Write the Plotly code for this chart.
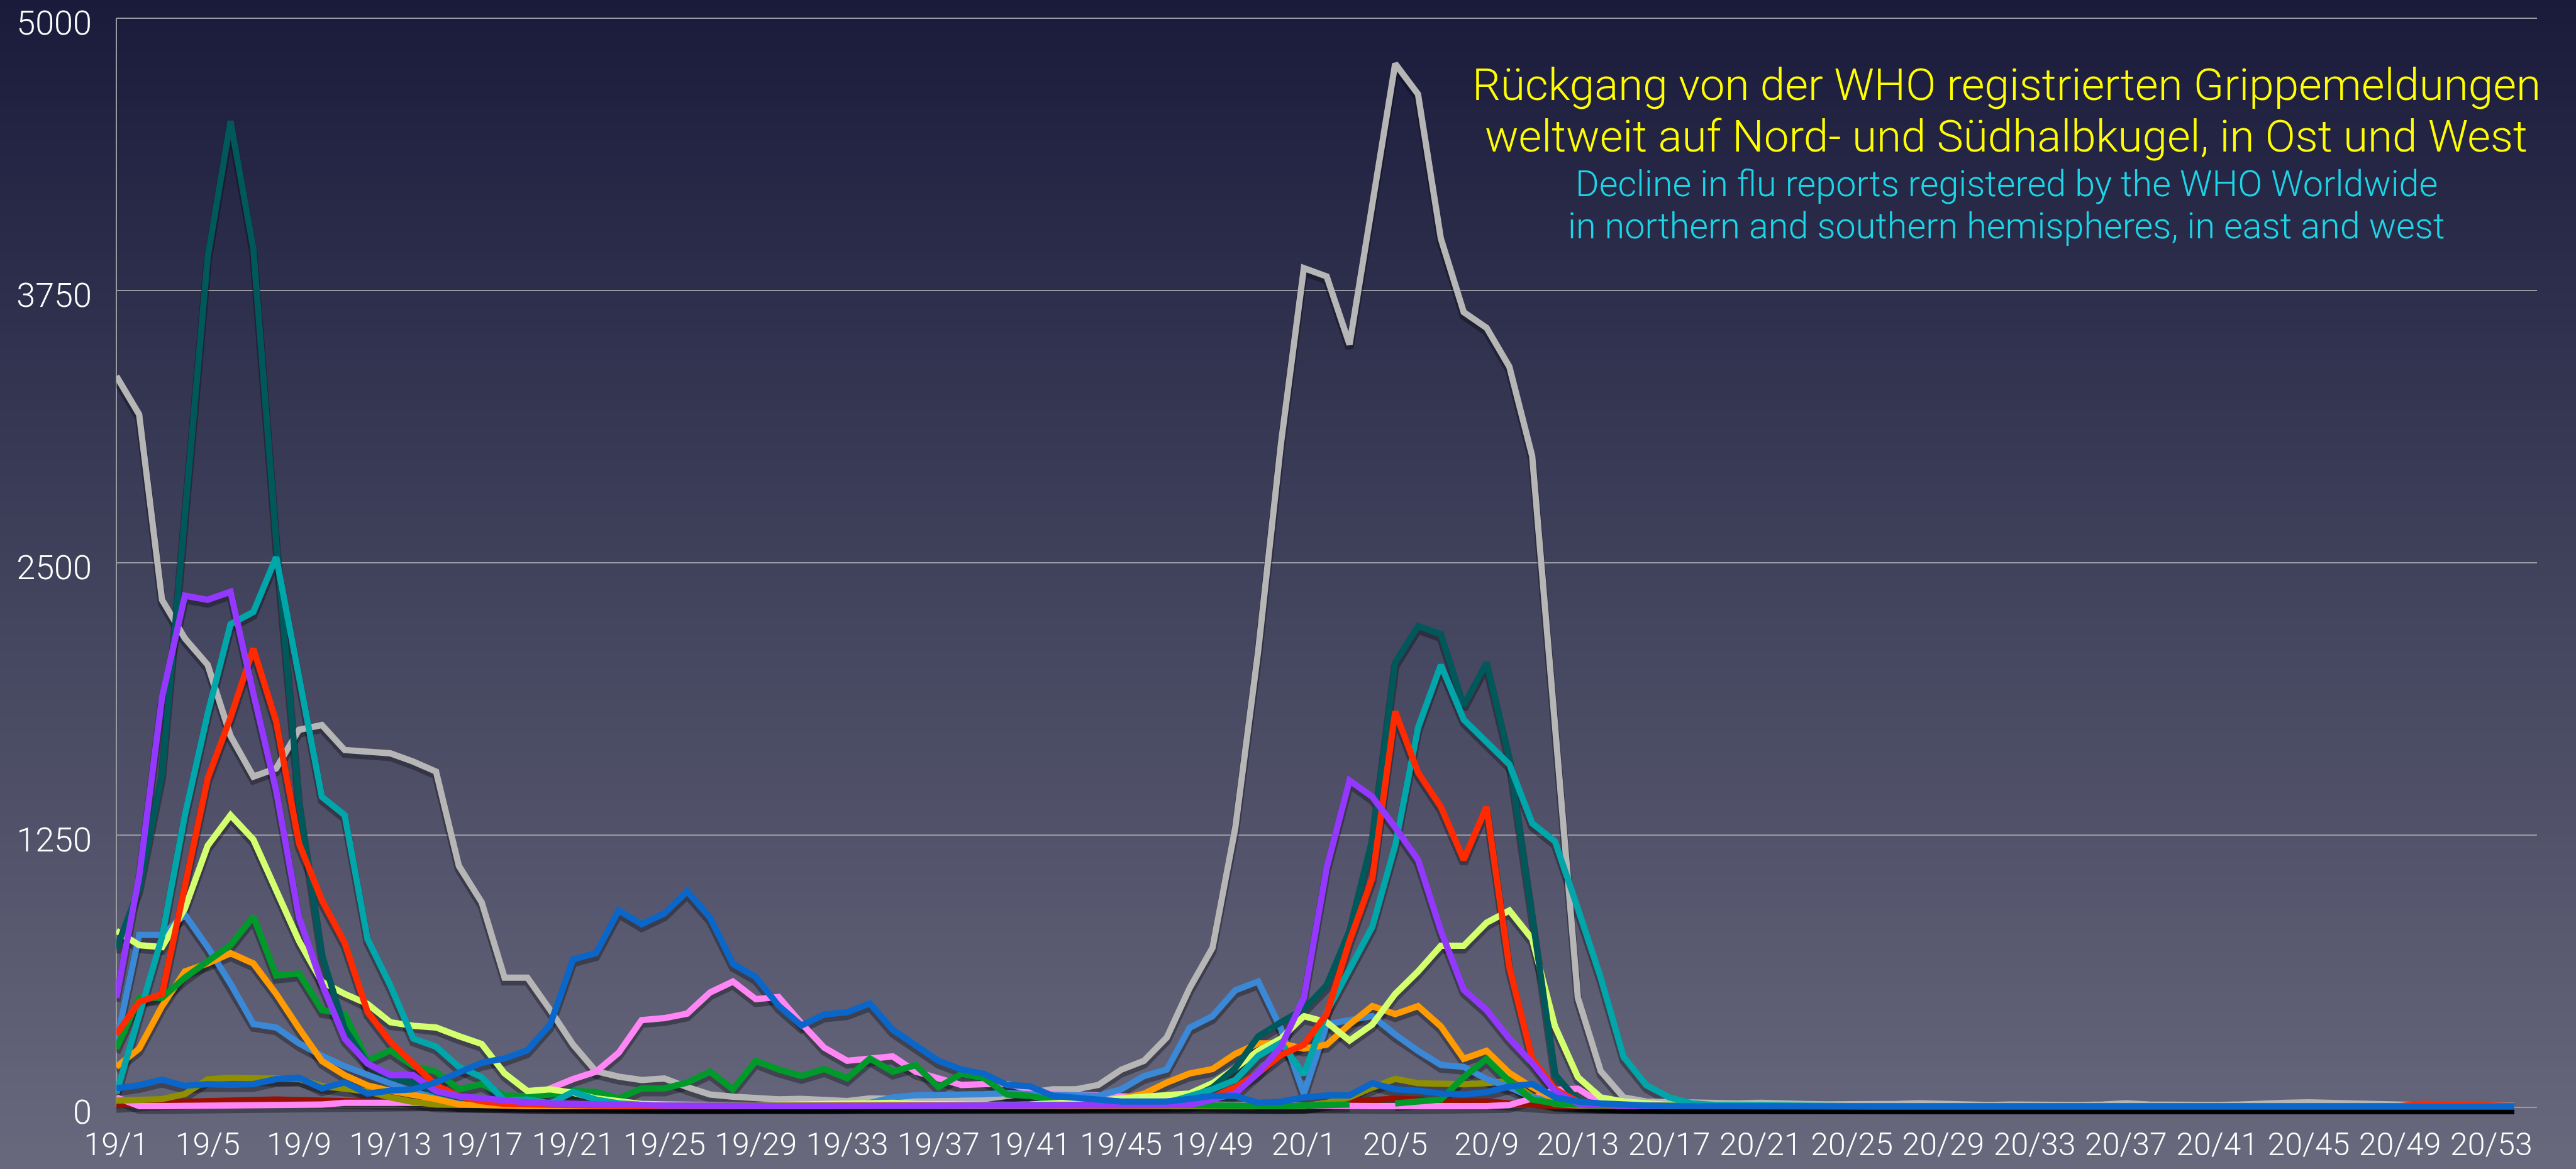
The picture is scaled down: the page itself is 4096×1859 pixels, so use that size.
import plotly.graph_objects as go

# ---------------- data ----------------
weeks = [f"19/{i}" for i in range(1, 53)] + [f"20/{i}" for i in range(1, 54)] + ["21/1"]
tick_labels = weeks[0:105:4]
y_ticks = [0, 1250, 2500, 3750, 5000]

gray = [3357, 3181, 2330, 2153, 2031, 1705, 1518, 1556, 1733, 1755,
        1640, 1630, 1625, 1587, 1541, 1108, 940, 595, 595, 446,
        287, 165, 140, 125, 132, 92, 58, 48, 42, 36,
        38, 30, 28, 40, 36, 34, 34, 36, 38, 52,
        66, 82, 82, 102, 172, 213, 320, 547, 732, 1284,
        2095, 3050, 3853, 3815, 3502, 4147, 4792, 4652, 3989, 3651,
        3579, 3400, 2990, 1750, 502, 166, 45, 26, 22, 20,
        18, 17, 20, 15, 14, 13, 12, 14, 15, 18,
        14, 12, 10, 12, 10, 9, 10, 12, 18, 12,
        10, 9, 10, 12, 18, 20, 22, 18, 14, 12,
        10, 9, 8, 8, 7, 6]

dark_teal = [726, 1005, 1530, 2700, 3904, 4528, 3942, 2600, 1400, 700,
             360, 200, 138, 110, 70, 45, 30, 20, 15, 12,
             10, 9, 8, 8, 7, 7, 6, 6, 6, 5,
             5, 5, 5, 5, 5, 5, 5, 5, 6, 6,
             7, 8, 9, 10, 12, 14, 20, 40, 90, 180,
             325, 390, 450, 560, 810, 1229, 2041, 2209, 2172, 1845,
             2041, 1603, 900, 150, 30, 12, 8, 6, 5, 5,
             5, 5, 5, 5, 5, 5, 5, 5, 5, 5,
             5, 5, 5, 5, 5, 5, 5, 5, 5, 5,
             5, 5, 5, 5, 5, 5, 5, 5, 5, 5,
             5, 5, 5, 5, 5, 5]

teal = [63, 427, 782, 1341, 1808, 2218, 2274, 2526, 1994, 1425,
        1341, 772, 558, 315, 278, 185, 138, 30, 35, 17,
        70, 35, 17, 8, 5, 5, 5, 5, 5, 5,
        5, 5, 5, 5, 5, 5, 5, 5, 5, 5,
        5, 5, 5, 5, 8, 12, 20, 52, 82, 125,
        235, 296, 150, 437, 633, 829, 1202, 1742, 2031, 1780,
        1677, 1574, 1304, 1220, 912, 595, 231, 101, 45, 17,
        10, 8, 6, 5, 5, 5, 5, 5, 5, 5,
        5, 5, 5, 5, 5, 5, 5, 5, 5, 5,
        5, 5, 5, 5, 5, 5, 5, 5, 5, 5,
        5, 5, 5, 5, 5, 5]

purple = [502, 1061, 1882, 2349, 2330, 2367, 1900, 1453, 870, 567,
          315, 200, 147, 147, 74, 50, 41, 30, 22, 17,
          17, 15, 13, 10, 8, 6, 5, 5, 5, 5,
          5, 5, 5, 5, 5, 5, 5, 5, 5, 5,
          5, 5, 5, 5, 5, 6, 8, 10, 35, 63,
          157, 278, 502, 1099, 1500, 1425, 1285, 1136, 810, 539,
          446, 315, 203, 73, 17, 8, 6, 5, 5, 5,
          5, 5, 5, 5, 5, 5, 5, 5, 5, 5,
          5, 5, 5, 5, 5, 5, 5, 5, 5, 5,
          5, 5, 5, 5, 5, 5, 5, 5, 5, 5,
          5, 5, 5, 5, 5, 5]

red = [334, 483, 520, 1000, 1509, 1789, 2106, 1770, 1211, 950,
       754, 437, 300, 200, 100, 50, 28, 15, 12, 10,
       8, 7, 6, 5, 5, 5, 5, 5, 5, 5,
       5, 5, 5, 5, 5, 5, 5, 5, 5, 5,
       5, 5, 5, 5, 6, 8, 10, 20, 45, 91,
       157, 240, 287, 427, 763, 1052, 1817, 1537, 1379, 1136,
       1379, 642, 222, 82, 26, 10, 6, 5, 5, 5,
       5, 5, 5, 5, 5, 5, 5, 5, 5, 5,
       5, 5, 5, 5, 5, 5, 5, 5, 5, 5,
       5, 5, 5, 5, 5, 5, 5, 5, 5, 5,
       5, 15, 12, 5, 5, 5]

yellow_green = [810, 744, 735, 912, 1201, 1341, 1229, 987, 763, 576,
                520, 474, 390, 374, 366, 326, 290, 155, 74, 82,
                66, 40, 25, 15, 12, 10, 8, 8, 8, 10,
                12, 15, 20, 25, 20, 15, 12, 10, 10, 10,
                12, 15, 20, 28, 40, 50, 55, 63, 110, 180,
                259, 315, 418, 390, 306, 380, 520, 623, 741, 741,
                847, 903, 772, 371, 138, 45, 26, 15, 10, 8,
                5, 5, 5, 5, 5, 5, 5, 5, 5, 5,
                5, 5, 5, 5, 5, 5, 5, 5, 5, 5,
                5, 5, 5, 5, 5, 5, 5, 5, 5, 5,
                5, 5, 5, 5, 5, 5]

green = [269, 502, 502, 595, 670, 744, 875, 604, 614, 446,
         427, 212, 261, 188, 163, 82, 106, 54, 50, 58,
         74, 70, 41, 86, 86, 113, 163, 82, 212, 173,
         143, 175, 133, 223, 163, 193, 92, 153, 133, 58,
         52, 32, 25, 20, 18, 15, 12, 10, 8, 6,
         5, 5, 8, 10, 12, None, 17, 26, 35, 138,
         222, 119, 35, 17, 10, 8, 6, 5, 5, 5,
         5, 5, 5, 5, 5, 5, 5, 5, 5, 5,
         5, 5, 5, 5, 5, 5, 5, 5, 5, 5,
         5, 5, 8, 8, 8, 8, 8, 5, 5, 5,
         5, 5, 5, 5, 5, 5]

orange = [185, 269, 464, 623, 660, 707, 660, 520, 362, 212,
          147, 100, 75, 58, 37, 13, 8, 6, 5, 5,
          5, 5, 5, 5, 5, 5, 5, 5, 5, 5,
          5, 5, 5, 5, 5, 5, 5, 5, 5, 5,
          5, 5, 8, 15, 40, 62, 113, 155, 175, 245,
          293, 293, 269, 287, 380, 464, 427, 464, 371, 222,
          259, 157, 91, 35, 12, 8, 5, 5, 5, 5,
          5, 5, 5, 5, 5, 5, 5, 5, 5, 5,
          5, 5, 5, 5, 5, 5, 5, 5, 5, 5,
          5, 5, 5, 5, 5, 5, 5, 5, 5, 5,
          5, 5, 8, 8, 5, 5]

light_blue = [300, 791, 791, 884, 735, 567, 382, 366, 293, 236,
              188, 147, 110, 70, 45, 30, 22, 15, 12, 10,
              8, 7, 6, 5, 5, 5, 5, 5, 5, 5,
              5, 5, 5, 20, 45, 55, 60, 58, 60, 65,
              60, 55, 50, 52, 82, 143, 173, 365, 418, 537,
              577, 360, 60, 380, 400, 418, 334, 259, 194, 185,
              129, 91, 45, 20, 10, 6, 5, 5, 5, 5,
              5, 5, 5, 5, 5, 5, 5, 5, 5, 5,
              5, 5, 5, 5, 5, 5, 5, 5, 5, 5,
              5, 5, 5, 5, 5, 5, 5, 5, 5, 5,
              5, 5, 5, 5, 5, 5]

blue = [86, 101, 126, 98, 106, 102, 106, 129, 135, 86,
        114, 62, 76, 82, 114, 159, 204, 224, 261, 380,
        679, 707, 903, 840, 890, 991, 870, 658, 597, 466,
        375, 426, 436, 476, 355, 284, 213, 173, 153, 102,
        96, 52, 42, 32, 26, 26, 26, 38, 52, 52,
        20, 25, 45, 54, 54, 110, 82, 76, 63, 58,
        69, 95, 106, 45, 26, 17, 10, 8, 5, 4,
        3, 3, 3, 3, 3, 3, 3, 3, 3, 3,
        3, 3, 3, 3, 3, 3, 3, 3, 3, 3,
        3, 3, 3, 3, 3, 3, 3, 3, 3, 3,
        3, 3, 3, 3, 3, 3]

pink = [45, 5, 5, 6, 7, 8, 10, 10, 10, 12,
        20, 22, 20, 20, 18, 15, 12, 12, 33, 86,
        129, 163, 250, 400, 409, 430, 527, 577, 496, 506,
        385, 273, 213, 223, 233, 163, 133, 102, 106, 106,
        82, 62, 58, 52, 52, 46, 32, 20, 12, 10,
        8, 6, 5, 5, 5, 5, 5, 4, 4, 4,
        5, 10, 40, 80, 85, 20, 8, 5, 5, 5,
        5, 5, 5, 5, 5, 5, 5, 5, 5, 5,
        5, 5, 5, 5, 5, 5, 8, 10, 8, 5,
        5, 5, 5, 5, 5, 5, 5, 5, 5, 5,
        5, 5, 5, 5, 5, 5]

olive = [30, 33, 37, 60, 128, 135, 135, 135, 130, 97,
         85, 73, 45, 24, 12, 10, 8, 8, 8, 8,
         5, 5, 5, 5, 5, 5, 5, 5, 5, 5,
         5, 5, 5, 5, 5, 5, 5, 5, 5, 5,
         5, 5, 5, 5, 5, 5, 5, 5, 5, 5,
         5, 5, 5, 20, 45, 90, 130, 110, 105, 105,
         110, 120, 50, 15, 8, 5, 5, 5, 5, 5,
         5, 5, 5, 5, 5, 5, 5, 5, 5, 5,
         5, 5, 5, 5, 5, 5, 5, 5, 5, 5,
         5, 5, 5, 5, 5, 5, 5, 5, 5, 5,
         5, 5, 5, 5, 5, 5]

dark_red = [10, 20, 22, 25, 30, 33, 35, 35, 32, 30,
            28, 20, 18, 15, 13, 12, 10, 8, 6, 5,
            5, 5, 5, 5, 5, 5, 5, 5, 5, 5,
            5, 5, 5, 5, 5, 5, 5, 5, 5, 5,
            5, 5, 5, 5, 5, 5, 5, 5, 5, 5,
            5, 5, 5, 20, 26, 39, 39, 35, 26, 26,
            26, 17, 8, 5, 5, 5, 5, 5, 5, 5,
            5, 5, 5, 5, 5, 5, 5, 5, 5, 5,
            5, 5, 5, 5, 5, 5, 5, 5, 5, 5,
            5, 5, 5, 5, 5, 5, 5, 5, 5, 5,
            5, 5, 5, 5, 5, 5]

title_de_1 = "Rückgang von der WHO registrierten Grippemeldungen"
title_de_2 = "weltweit auf Nord- und Südhalbkugel, in Ost und West"
title_en_1 = "Decline in flu reports registered by the WHO Worldwide"
title_en_2 = "in northern and southern hemispheres, in east and west"

# drawing order: bottom -> top
series = [
    ("Reihe 1", gray, "#b6b6b6"),
    ("Reihe 2", dark_red, "#991000"),
    ("Reihe 3", pink, "#ff86f4"),
    ("Reihe 4", olive, "#8f8f00"),
    ("Reihe 5", light_blue, "#3a88d6"),
    ("Reihe 6", orange, "#ff9a00"),
    ("Reihe 7", green, "#009a2a"),
    ("Reihe 8", yellow_green, "#d4ff6e"),
    ("Reihe 9", dark_teal, "#00585a"),
    ("Reihe 10", teal, "#00a6a9"),
    ("Reihe 11", red, "#ff2a00"),
    ("Reihe 12", purple, "#9538ff"),
    ("Reihe 13", blue, "#0a66c8"),
]

# ---------------- layout geometry ----------------
W, H = 4096, 1859
Y_MIN, Y_MAX = -50, 5015
px_per_unit = (1761 - 29) / 5000.0          # 0 at 1761 px, 5000 at 29 px
T = 29 - (Y_MAX - 5000) * px_per_unit
B = H - (1761 + (0 - Y_MIN) * px_per_unit)
L, R = 185, 62
PW, PH = W - L - R, H - T - B
shadow_shift = 6 / px_per_unit
FONT = "Roboto, 'Liberation Sans', Arial, sans-serif"

fig = go.Figure()

# background gradient (paper-referenced bands)
top_c = (26, 27, 59)
bot_c = (104, 105, 125)
n_bands = 140
for i in range(n_bands):
    f = (i + 0.5) / n_bands
    c = tuple(round(top_c[k] + (bot_c[k] - top_c[k]) * f) for k in range(3))
    y_top_px = i * H / n_bands - 1
    y_bot_px = (i + 1) * H / n_bands + 1.5
    fig.add_shape(type="rect", xref="paper", yref="paper",
                  x0=-L / PW - 0.01, x1=1 + R / PW + 0.01,
                  y0=(H - B - y_bot_px) / PH, y1=(H - B - y_top_px) / PH,
                  fillcolor="rgb(%d,%d,%d)" % c, line_width=0, layer="below")

# shadows (base axis, shifted down a few pixels)
for name, vals, col in series:
    fig.add_trace(go.Scatter(x=weeks, y=vals, mode="lines", yaxis="y",
                             line=dict(color="rgba(0,0,0,0.32)", width=13),
                             hoverinfo="skip", showlegend=False, connectgaps=False))

# main lines (overlay axis, drawn on top)
for name, vals, col in series:
    fig.add_trace(go.Scatter(x=weeks, y=vals, mode="lines", name=name, yaxis="y2",
                             line=dict(color=col, width=10), showlegend=False,
                             connectgaps=False))

# left axis line
fig.add_shape(type="line", xref="paper", yref="y2", x0=0, x1=0, y0=0, y1=5000,
              line=dict(color="#9a9aa2", width=2), layer="below")

ann_x = (3190 - L) / PW
def py(ypx):
    return (H - B - ypx) / PH

anns = [
    (title_de_1, "#ffff00", 71, 134),
    (title_de_2, "#ffff00", 71, 216),
    (title_en_1, "#1cd6e8", 57.5, 292),
    (title_en_2, "#1cd6e8", 57.5, 359),
]
for txt, col, size, ypx in anns:
    fig.add_annotation(text=txt, xref="paper", yref="paper", x=ann_x, y=py(ypx),
                       xanchor="center", yanchor="middle", showarrow=False,
                       font=dict(family=FONT, size=size, color=col, weight=300))

fig.update_layout(
    width=W, height=H, autosize=False,
    margin=dict(l=L, r=R, t=T, b=B, pad=0, autoexpand=False),
    paper_bgcolor="#3f405a", plot_bgcolor="rgba(0,0,0,0)",
    showlegend=False,
    font=dict(family=FONT, color="white", weight=300),
    xaxis=dict(type="category", range=[0, 106], showgrid=False, zeroline=False,
               showline=False, ticks="", tickmode="array", tickvals=tick_labels,
               ticktext=tick_labels, tickangle=0, automargin=False,
               tickfont=dict(family=FONT, size=50, color="white", weight=300),
               ticklabelstandoff=8),
    yaxis=dict(range=[Y_MIN + shadow_shift, Y_MAX + shadow_shift], visible=False,
               showgrid=False, zeroline=False, automargin=False),
    yaxis2=dict(overlaying="y", side="left", anchor="x", range=[Y_MIN, Y_MAX],
                tickmode="array", tickvals=y_ticks, ticktext=[str(v) for v in y_ticks],
                showgrid=True, gridcolor="#9a9aa2", gridwidth=2, zeroline=False,
                showline=False, ticks="", automargin=False, ticklabeloverflow="allow",
                tickfont=dict(family=FONT, size=54, color="white", weight=300),
                ticklabelstandoff=38, ticklabelshift=7),
)

fig.write_html("out.html", config={"displayModeBar": False},
               post_script="document.body.style.margin='0';document.body.style.overflow='hidden';")
